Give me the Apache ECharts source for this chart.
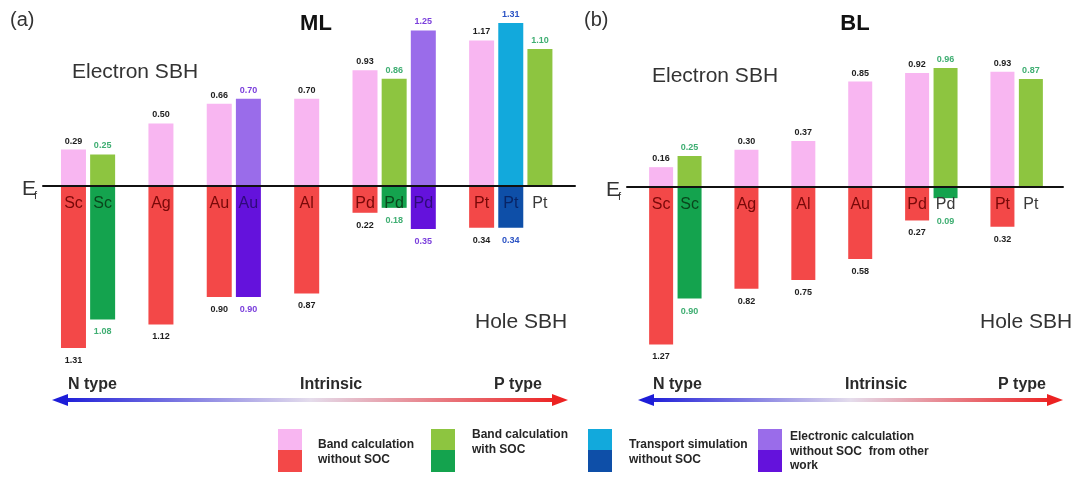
<!DOCTYPE html>
<html>
<head>
<meta charset="utf-8">
<script src="https://cdn.jsdelivr.net/npm/echarts@6/dist/echarts.min.js"></script>
<style>
  html, body { margin: 0; padding: 0; background: #fff; }
  #chart { width: 1077px; height: 477px; }
</style>
</head>
<body>
<div id="chart"></div>
<script>
// Schottky barrier heights (eV) of metal contacts, monolayer (ML)
const mlMetals   = ['Sc', 'Sc', 'Ag', 'Au', 'Au', 'Al', 'Pd', 'Pd', 'Pd', 'Pt', 'Pt', 'Pt'];
const mlMethods  = ['band', 'soc', 'band', 'band', 'other', 'band', 'band', 'soc', 'other', 'band', 'transport', 'soc'];
const mlElectron = [0.29, 0.25, 0.50, 0.66, 0.70, 0.70, 0.93, 0.86, 1.25, 1.17, 1.31, 1.10];
const mlHole     = [1.31, 1.08, 1.12, 0.90, 0.90, 0.87, 0.22, 0.18, 0.35, 0.34, 0.34, null];
const mlGroupSizes = [2, 1, 2, 1, 3, 3];

// Bilayer (BL)
const blMetals   = ['Sc', 'Sc', 'Ag', 'Al', 'Au', 'Pd', 'Pd', 'Pt', 'Pt'];
const blMethods  = ['band', 'soc', 'band', 'band', 'band', 'band', 'soc', 'band', 'soc'];
const blElectron = [0.16, 0.25, 0.30, 0.37, 0.85, 0.92, 0.96, 0.93, 0.87];
const blHole     = [1.27, 0.90, 0.82, 0.75, 0.58, 0.27, 0.09, 0.32, null];
const blGroupSizes = [2, 1, 1, 1, 2, 2];

const methodOrder = ['band', 'soc', 'transport', 'other'];
const legendLines = [
  ['Band calculation', 'without SOC'],
  ['Band calculation', 'with SOC'],
  ['Transport simulation', 'without SOC'],
  ['Electronic calculation', 'without SOC  from other', 'work']
];

// light colour = electron barrier, dark colour = hole barrier
const palette = {
  band:      { up: '#f8b6f1', down: '#f34848', upText: '#1e1e1e', downText: '#1e1e1e', name: '#780808' },
  soc:       { up: '#8dc540', down: '#14a34e', upText: '#3fae72', downText: '#3fae72', name: '#0a461c' },
  transport: { up: '#12a9dc', down: '#0e4fa8', upText: '#2a52c4', downText: '#2a52c4', name: '#082466' },
  other:     { up: '#9a6cea', down: '#6412dc', upText: '#7b3fdc', downText: '#7b3fdc', name: '#2e0a7a' }
};

const FONT = '"Liberation Sans", Arial, sans-serif';

// one category per bar, with an empty category between metal groups
function buildPanel(metals, methods, electron, hole, groups) {
  const cats = [], up = [], down = [], nameColors = [];
  let k = 0;
  groups.forEach((n, g) => {
    for (let j = 0; j < n; j++, k++) {
      const p = palette[methods[k]];
      cats.push(metals[k]);
      up.push({ value: electron[k], itemStyle: { color: p.up }, label: { color: p.upText } });
      const h = hole[k];
      if (h == null) {
        down.push('-');
      } else {
        down.push({
          value: -h,
          itemStyle: { color: p.down },
          label: { color: p.downText, distance: h < 0.15 ? 19 : 8 }
        });
      }
      nameColors.push(h != null && h >= 0.15 ? p.name : '#3a3a3a');
    }
    if (g < groups.length - 1) {
      cats.push('');
      up.push('-');
      down.push('-');
      nameColors.push('#3a3a3a');
    }
  });
  return { cats, up, down, nameColors };
}

const ml = buildPanel(mlMetals, mlMethods, mlElectron, mlHole, mlGroupSizes);
const bl = buildPanel(blMetals, blMethods, blElectron, blHole, blGroupSizes);

const Y_MIN = -1.4, Y_MAX = 1.4;

// bar grids: the value axis spans Y_MIN..Y_MAX; the upper-half grids end on E_f
const ML_BOX = { left: 58.9, top: 11.9, width: 495.6, height: 347.2 };
const BL_BOX = { left: 646.9, top: 13.4, width: 398.2, height: 347.2 };
const halfTo = (box, left, width) => ({ left, width, top: box.top, height: box.height / 2 });

function hiddenX(gridIndex, panel) {
  return { type: 'category', gridIndex, data: panel.cats, show: false };
}
function nameAxis(gridIndex, panel) {
  return {
    type: 'category', gridIndex, data: panel.cats, position: 'bottom', z: 5,
    axisLine: { show: false }, axisTick: { show: false }, splitLine: { show: false },
    axisLabel: {
      interval: 0, margin: 10, fontSize: 16, fontFamily: FONT,
      color: (v, i) => panel.nameColors[i]
    }
  };
}
function fermiAxis(gridIndex) {
  return {
    type: 'category', gridIndex, data: [''], position: 'bottom', z: 4,
    axisLine: { show: true, onZero: false, lineStyle: { color: '#111', width: 2 } },
    axisTick: { show: false }, axisLabel: { show: false }, splitLine: { show: false }
  };
}
function hiddenY(gridIndex, min, max) {
  return { type: 'value', gridIndex, min, max, show: false, splitLine: { show: false } };
}
function barSeries(name, axisIndex, data, stack, width, pos, dist) {
  return {
    name, type: 'bar', xAxisIndex: axisIndex, yAxisIndex: axisIndex, stack,
    barWidth: width, data, animation: false,
    label: {
      show: true, position: pos, distance: dist,
      fontSize: 9, fontWeight: 'bold', fontFamily: FONT,
      formatter: p => Math.abs(p.value).toFixed(2)
    }
  };
}

// decorations: panel letters, titles, barrier names, Fermi level, doping arrows, legend
const graphics = [];
function txt(x, y, text, size, opts) {
  graphics.push({
    type: 'text', x, y, silent: true,
    style: Object.assign({
      text, fontSize: size, fontFamily: FONT, fill: '#333',
      textAlign: 'left', textVerticalAlign: 'middle'
    }, opts || {})
  });
}
function dopingArrow(x1, x2, y, labelY, nX, iX, pX) {
  graphics.push({
    type: 'line', silent: true,
    shape: { x1: x1 + 12, y1: y, x2: x2 - 12, y2: y },
    style: {
      lineWidth: 4,
      stroke: new echarts.graphic.LinearGradient(0, 0, 1, 0, [
        { offset: 0, color: '#1d1dd8' },
        { offset: 0.5, color: '#e4dcec' },
        { offset: 1, color: '#ec2222' }
      ])
    }
  });
  graphics.push({ type: 'polygon', silent: true, shape: { points: [[x1, y], [x1 + 16, y - 6], [x1 + 16, y + 6]] }, style: { fill: '#1d1dd8' } });
  graphics.push({ type: 'polygon', silent: true, shape: { points: [[x2, y], [x2 - 16, y - 6], [x2 - 16, y + 6]] }, style: { fill: '#ec2222' } });
  txt(nX, labelY, 'N type', 16, { fontWeight: 'bold', fill: '#2a2a2a' });
  txt(iX, labelY, 'Intrinsic', 16, { fontWeight: 'bold', fill: '#2a2a2a' });
  txt(pX, labelY, 'P type', 16, { fontWeight: 'bold', fill: '#2a2a2a' });
}
function fermiLabel(x, y) {
  txt(x, y, 'E', 21, { fill: '#333' });
  txt(x + 12, y + 7, 'f', 11, { fill: '#333' });
}

// panel (a)
txt(10, 20, '(a)', 20);
txt(316, 24, 'ML', 22, { fontWeight: 'bold', textAlign: 'center', fill: '#111' });
txt(72, 72, 'Electron SBH', 21);
txt(475, 322, 'Hole SBH', 21);
fermiLabel(22, 189);
dopingArrow(52, 568, 400, 385, 68, 300, 494);

// panel (b)
txt(584, 20, '(b)', 20);
txt(855, 24, 'BL', 22, { fontWeight: 'bold', textAlign: 'center', fill: '#111' });
txt(652, 76, 'Electron SBH', 21);
txt(980, 322, 'Hole SBH', 21);
fermiLabel(606, 190);
dopingArrow(638, 1063, 400, 385, 653, 845, 998);

// legend: light/dark swatch pairs
const legendX = [278, 431, 588, 758];
const legendTextX = [318, 472, 629, 790];
const legendTextY = [445, 435, 445, 437];
methodOrder.forEach((m, i) => {
  graphics.push({ type: 'rect', silent: true, shape: { x: legendX[i], y: 429, width: 24, height: 21 }, style: { fill: palette[m].up } });
  graphics.push({ type: 'rect', silent: true, shape: { x: legendX[i], y: 450, width: 24, height: 22 }, style: { fill: palette[m].down } });
  legendLines[i].forEach((line, j) => {
    txt(legendTextX[i], legendTextY[i] + j * 14.5, line, 12, { fontWeight: 'bold', fill: '#262626' });
  });
});

const chart = echarts.init(document.getElementById('chart'), null, { renderer: 'canvas' });
chart.setOption({
  backgroundColor: '#fff',
  animation: false,
  grid: [
    ML_BOX,                       // 0: ML bars
    halfTo(ML_BOX, 43, 532),      // 1: ML Fermi level line
    halfTo(ML_BOX, ML_BOX.left, ML_BOX.width), // 2: ML metal names
    BL_BOX,                       // 3: BL bars
    halfTo(BL_BOX, 627, 436),     // 4: BL Fermi level line
    halfTo(BL_BOX, BL_BOX.left, BL_BOX.width)  // 5: BL metal names
  ],
  xAxis: [
    hiddenX(0, ml), fermiAxis(1), nameAxis(2, ml),
    hiddenX(3, bl), fermiAxis(4), nameAxis(5, bl)
  ],
  yAxis: [
    hiddenY(0, Y_MIN, Y_MAX), hiddenY(1, 0, Y_MAX), hiddenY(2, 0, Y_MAX),
    hiddenY(3, Y_MIN, Y_MAX), hiddenY(4, 0, Y_MAX), hiddenY(5, 0, Y_MAX)
  ],
  series: [
    barSeries('ML electron SBH', 0, ml.up, 'ml', 25, 'top', 4),
    barSeries('ML hole SBH', 0, ml.down, 'ml', 25, 'bottom', 8),
    barSeries('BL electron SBH', 3, bl.up, 'bl', 24, 'top', 4),
    barSeries('BL hole SBH', 3, bl.down, 'bl', 24, 'bottom', 8)
  ],
  graphic: graphics
});
</script>
</body>
</html>
